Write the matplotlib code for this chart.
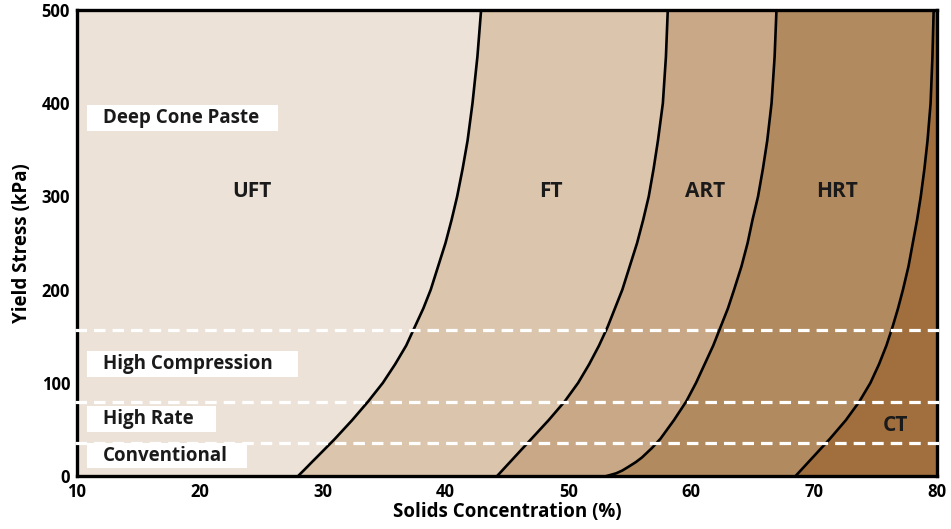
import matplotlib.pyplot as plt
import numpy as np
from matplotlib.patches import Rectangle

plt.rcParams["font.family"] = ["Open Sans", "DejaVu Sans"]
plt.rcParams["font.weight"] = "bold"

# yield stress levels (kPa) at which the boundary curves were read
stress = [0, 3, 6, 10, 15, 20, 30, 40, 60, 80, 100, 120, 140, 160, 180, 200,
          225, 250, 275, 300, 330, 360, 400, 450, 500]

# solids concentration (%) of each boundary curve at those stress levels
uft_ft = [28.0, 28.22, 28.45, 28.75, 29.12, 29.5, 30.25, 31.0, 32.4, 33.7, 34.9,
          35.9, 36.8, 37.5, 38.2, 38.8, 39.4, 40.0, 40.5, 40.95, 41.4, 41.8,
          42.2, 42.6, 42.9]
ft_art = [44.2, 44.41, 44.62, 44.9, 45.25, 45.6, 46.3, 47.0, 48.4, 49.7, 50.8,
          51.7, 52.5, 53.2, 53.8, 54.4, 55.0, 55.6, 56.1, 56.55, 56.95, 57.3,
          57.7, 57.95, 58.1]
art_hrt = [53.1, 53.9, 54.4, 54.9, 55.5, 56.0, 56.8, 57.5, 58.6, 59.6, 60.4,
           61.1, 61.8, 62.4, 63.0, 63.5, 64.1, 64.6, 65.0, 65.45, 65.85, 66.2,
           66.55, 66.8, 66.95]
hrt_ct = [68.5, 68.71, 68.92, 69.2, 69.55, 69.9, 70.6, 71.3, 72.6, 73.7, 74.6,
          75.3, 75.9, 76.4, 76.85, 77.25, 77.7, 78.05, 78.4, 78.7, 79.0, 79.25,
          79.5, 79.65, 79.75]

zones = ["UFT", "FT", "ART", "HRT", "CT"]
zone_colors = ["#ECE2D8", "#DBC6AD", "#C9A887", "#B28A5F", "#A06F3D"]
zone_label_pos = [(24.2, 305), (48.6, 305), (61.1, 305), (71.9, 305), (76.6, 54)]

# thickener operating regimes
regime_lines = [157, 80, 35]
regimes = ["Deep Cone Paste", "High Compression", "High Rate", "Conventional"]
regime_boxes = [(370, 398, 26.4), (106, 134, 28.0), (47, 75, 21.3), (8.5, 35, 23.8)]

fig = plt.figure(figsize=(9.51, 5.29), dpi=100)
ax = fig.add_axes([0.081, 0.100, 0.904, 0.881])

y = np.array(stress)
bounds = [np.full(len(y), 10.0), np.array(uft_ft), np.array(ft_art),
          np.array(art_hrt), np.array(hrt_ct), np.full(len(y), 80.0)]
for i, c in enumerate(zone_colors):
    ax.fill_betweenx(y, bounds[i], bounds[i + 1], color=c, lw=0, zorder=1)
for b in bounds[1:5]:
    ax.plot(b, y, color="black", lw=1.9, zorder=3, solid_joinstyle="round")

for name, (x0, y0) in zip(zones, zone_label_pos):
    ax.text(x0, y0, name, fontsize=15, fontweight="bold", ha="center",
            va="center", color="#1a1a1a", zorder=5)

for lev in regime_lines:
    ax.plot([9.85, 80.25], [lev, lev], color="white", lw=2.3,
            dashes=(3.6, 2.2), clip_on=False, zorder=10)

for name, (b0, b1, x1) in zip(regimes, regime_boxes):
    ax.add_patch(Rectangle((10.8, b0), x1 - 10.8, b1 - b0, facecolor="white",
                           edgecolor="none", zorder=4))
    ax.text(12.1, (b0 + b1) / 2, name, fontsize=13.5, fontweight="bold",
            ha="left", va="center", color="#1a1a1a", zorder=5)

ax.set_xlim(10, 80)
ax.set_ylim(0, 500)
ax.set_xticks(range(10, 81, 10))
ax.set_yticks(range(0, 501, 100))
ax.tick_params(length=0, labelsize=12, pad=5)
for lab in ax.get_xticklabels() + ax.get_yticklabels():
    lab.set_fontweight("bold")
for s in ax.spines.values():
    s.set_linewidth(2.4)
    s.set_zorder(6)
ax.set_xlabel("Solids Concentration (%)", fontsize=13.5, fontweight="bold", labelpad=1)
ax.set_ylabel("Yield Stress (kPa)", fontsize=13.5, fontweight="bold", labelpad=7)

fig.savefig("out.png", dpi=100)
